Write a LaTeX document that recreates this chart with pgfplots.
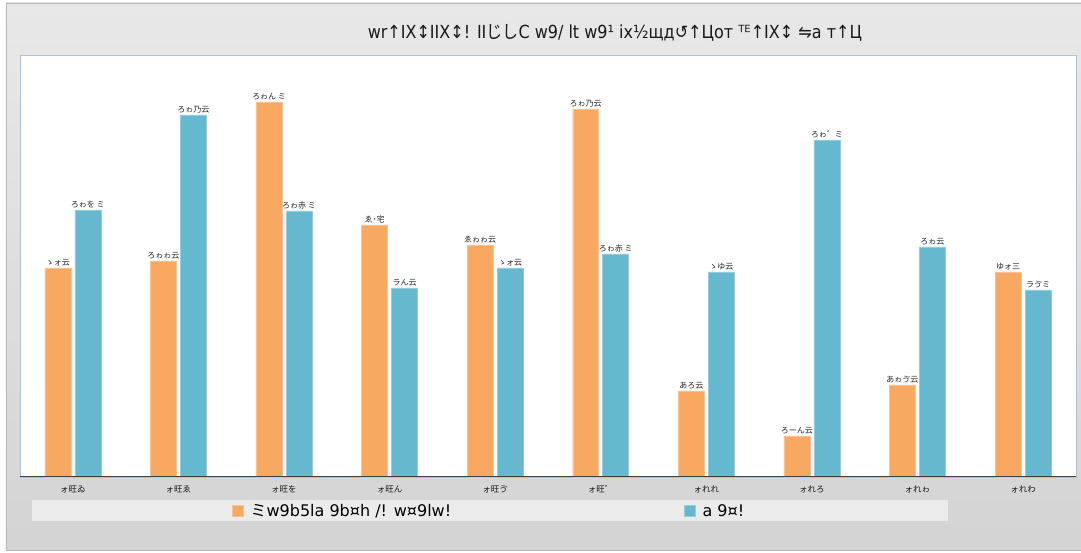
\documentclass[border=0pt]{standalone}
\usepackage{pgfplots}
\pgfplotsset{compat=1.18}
\usepackage{pgfplotstable}
\usepackage{fontspec}
\setmainfont{DejaVu Sans}
\newfontfamily\cjk{Noto Sans CJK JP}
\definecolor{cOr}{HTML}{F9A862}
\definecolor{cBl}{HTML}{66B8CE}
\definecolor{frameB}{HTML}{A8C4DC}
\pgfplotstableread[col sep=comma]{
x,o,ol,b,bl
0,209,ゝォ云,267,ろゎを ミ
1,216,ろゎゎ云,362,ろゎ乃云
2,375,ろゎん ミ,266,ろゎ赤 ミ
3,252,ゑ˙宅,189,ラん云
4,232,ゑゎゎ云,209,ゝォ云
5,368,ろゎ乃云,223,ろゎ赤 ミ
6,86,あろ云,205,ゝゆ云
7,41,ろーん云,337,ろゎ゛ミ
8,92,あゎゔ云,230,ろゎ云
9,205,ゆォ三,187,ラゔミ
}\datatable
\begin{document}
\begin{tikzpicture}
\begin{axis}[
  set layers, clip=false,
  scale only axis, width=1056pt, height=422pt,
  xmin=-0.5, xmax=9.5, ymin=0, ymax=422,
  enlargelimits=false,
  ybar, bar width=26pt,
  axis line style={draw=none},
  xtick=data, xtick style={draw=none},
  xticklabels={ォ旺ゐ,ォ旺ゑ,ォ旺を,ォ旺ん,ォ旺ゔ,ォ旺゛,ォれれ,ォれろ,ォれゎ,ォれわ},
  xticklabel style={font=\cjk\fontsize{8.5}{9}\selectfont, text=black!90, yshift=-1pt},
  ytick=\empty,
  point meta=explicit symbolic,
  nodes near coords,
  every node near coord/.append style={font=\cjk\fontsize{8}{9}\selectfont, text=black!85, inner sep=2pt},
  legend columns=2,
  legend style={at={(axis description cs:0.198,-0.0806)}, anchor=west, draw=none, fill=none,
    font=\fontsize{16}{18}\selectfont,
    /tikz/every odd column/.append style={column sep=5pt},
    /tikz/every even column/.append style={column sep=231pt}},
  legend image code/.code={\fill[#1] (0pt,-5.5pt) rectangle (11pt,5.5pt);},
]
\begin{pgfonlayer}{axis background}
\fill[white] ([shift={(-20pt,-76pt)}]rel axis cs:0,0) rectangle ([shift={(5pt,55pt)}]rel axis cs:1,1);
\shade[top color=black!9, bottom color=black!17] ([shift={(-14pt,-73pt)}]rel axis cs:0,0) rectangle ([shift={(5pt,52pt)}]rel axis cs:1,1);
\draw[black!28] ([shift={(-14pt,-73pt)}]rel axis cs:0,0) rectangle ([shift={(5pt,52pt)}]rel axis cs:1,1);
\draw[frameB, fill=white] (rel axis cs:0,0) rectangle (rel axis cs:1,1);
\fill[black!8] ([shift={(12pt,-44pt)}]rel axis cs:0,0) rectangle ([shift={(928pt,-23pt)}]rel axis cs:0,0);
\node[font=\fontsize{18}{22}\selectfont, text=black!90] at ([shift={(595pt,444pt)}]rel axis cs:0,0) {\scalebox{0.89}[1]{wr↑IX↕IIX↕! II{\cjk じし}C w9/ lt w9¹  ix½щд↺↑Цoт ᵀᴱ↑IX↕  ⇋a т↑Ц}};
\end{pgfonlayer}
\addplot[fill=cOr, draw=cOr!70!white, bar shift=-15pt] table[x=x, y=o, meta=ol] {\datatable};
\addplot[fill=cBl, draw=cBl!70!white, bar shift=15pt] table[x=x, y=b, meta=bl] {\datatable};
\draw[black!75, line width=0.8pt] (rel axis cs:0,0) -- (rel axis cs:1,0);
\legend{{\cjk ミ}w9b5la 9b¤h /! w¤9lw!, a 9¤!}
\end{axis}
\end{tikzpicture}
\end{document}
